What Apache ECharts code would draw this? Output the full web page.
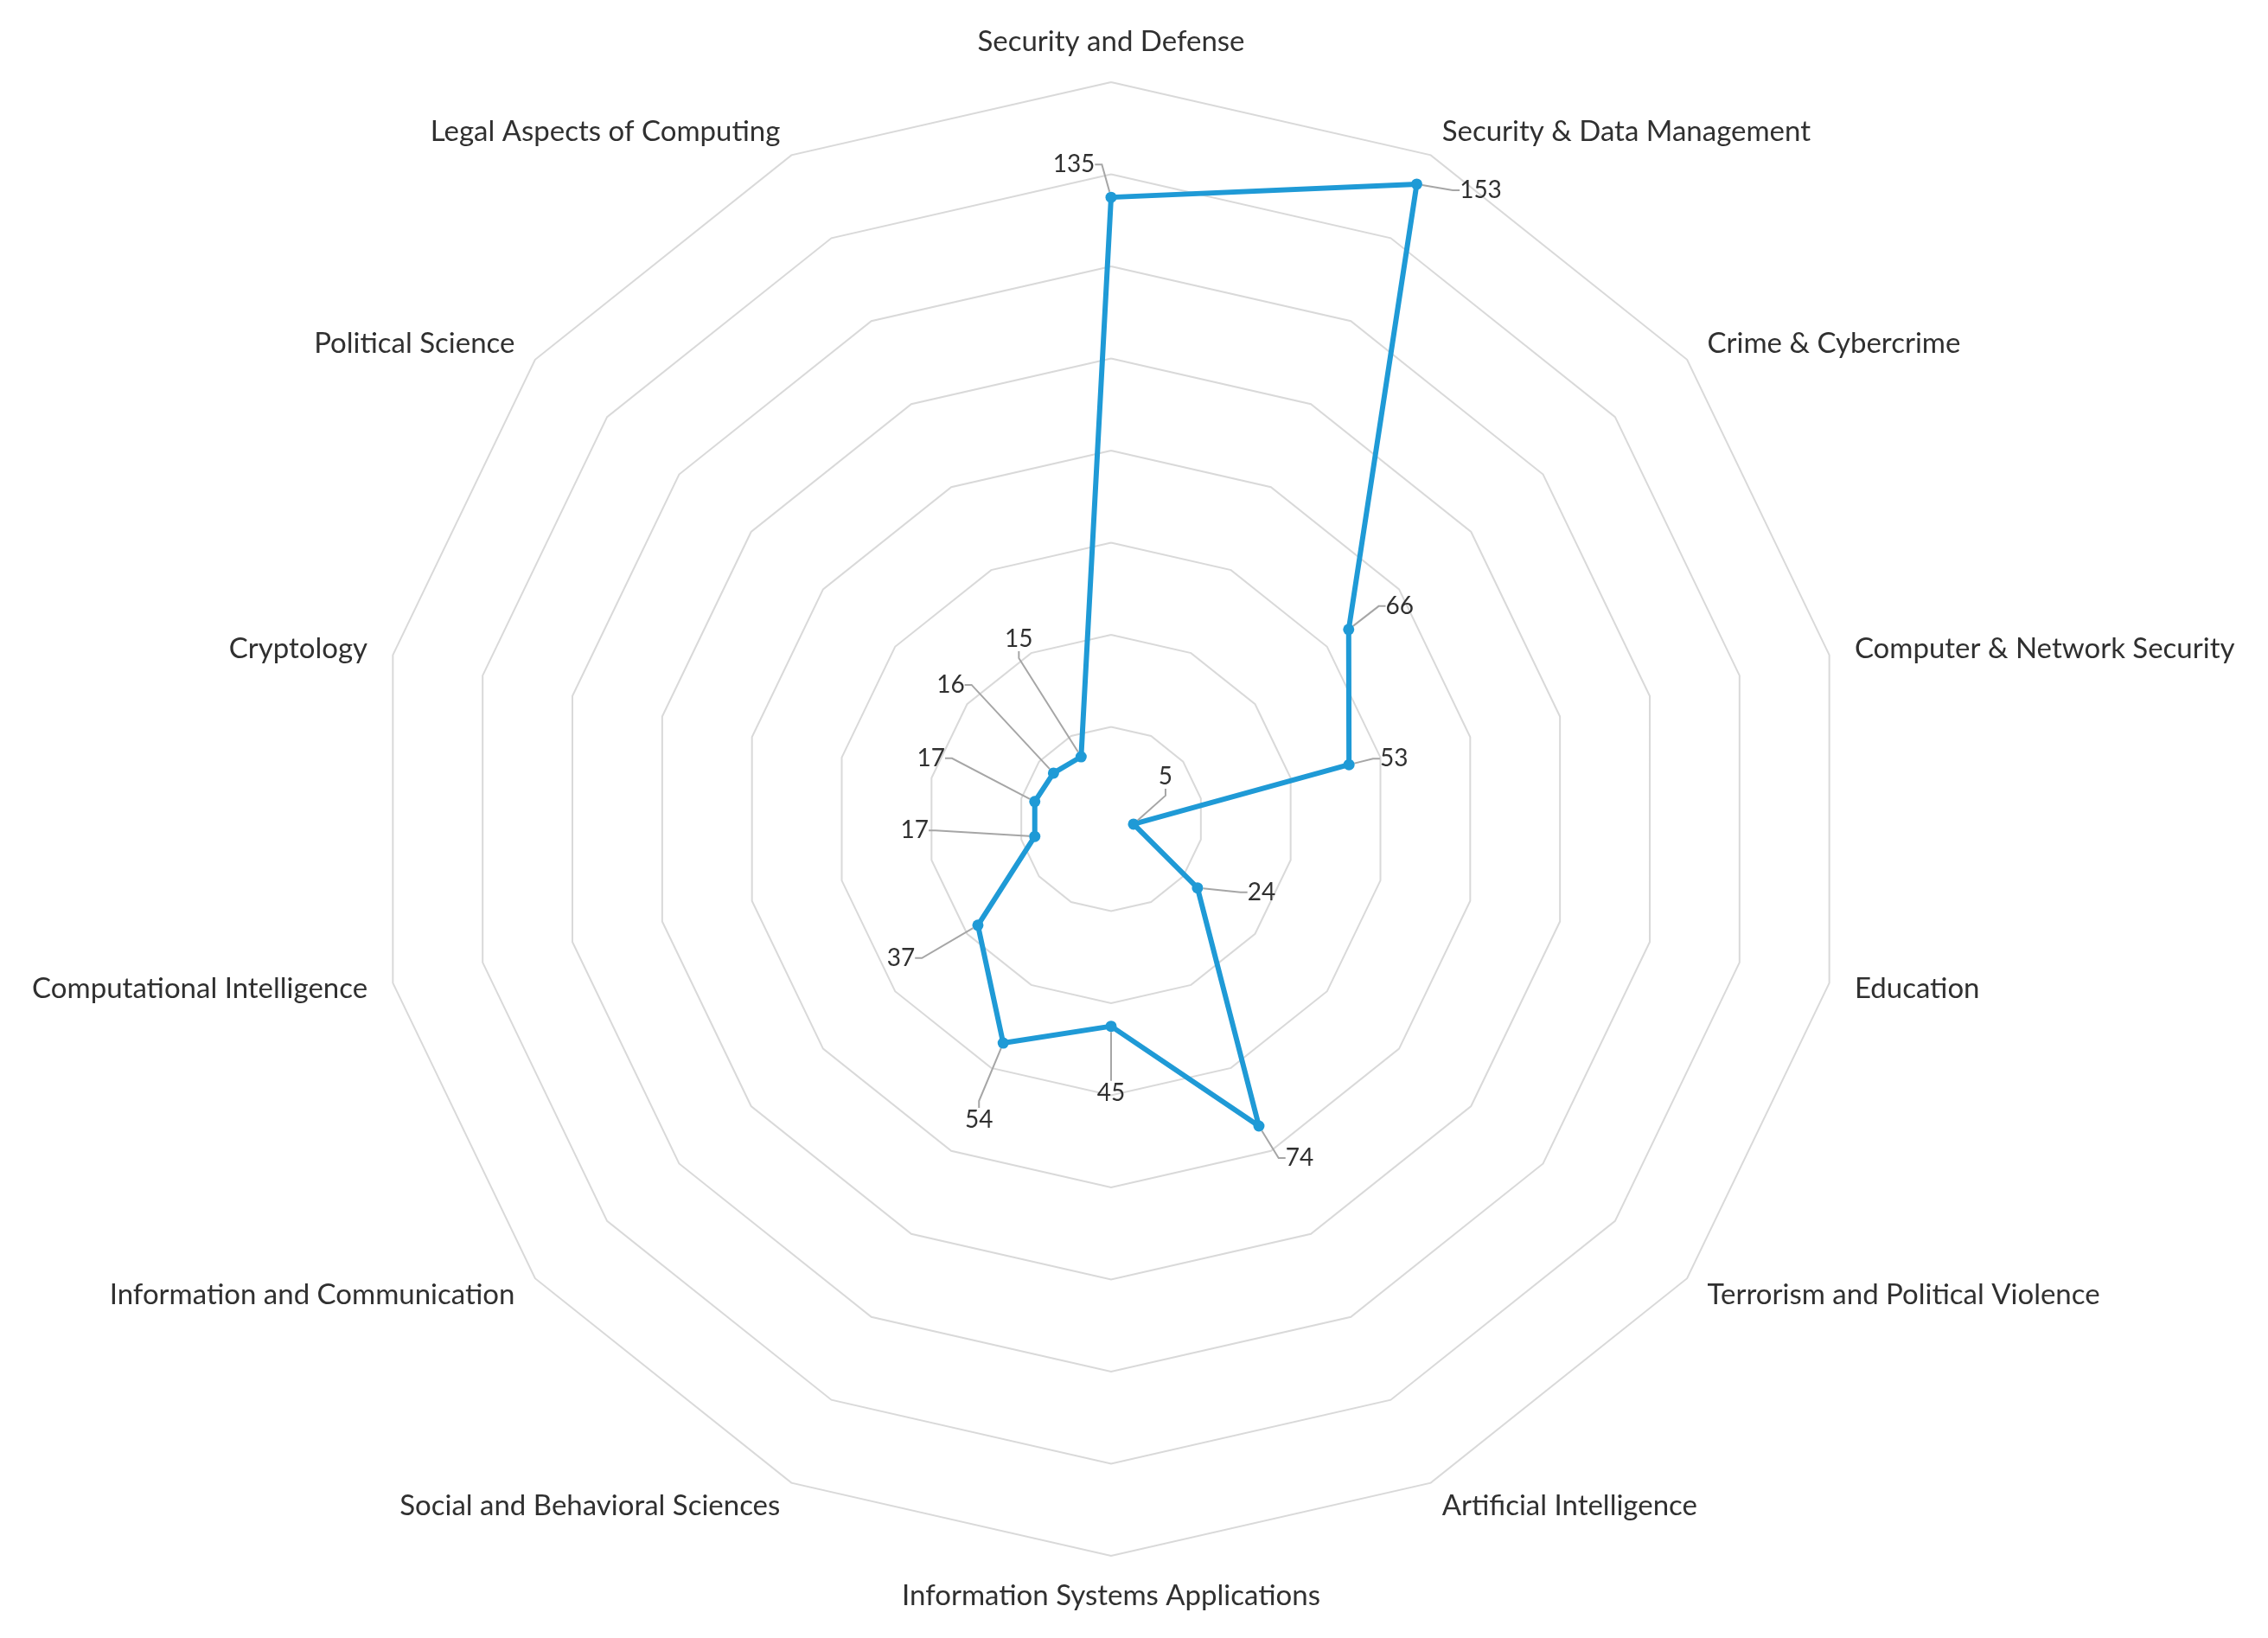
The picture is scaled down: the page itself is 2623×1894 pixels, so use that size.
<!DOCTYPE html>
<html>
<head>
<meta charset="utf-8">
<title>Radar</title>
<script src="https://cdn.jsdelivr.net/npm/echarts@6/dist/echarts.min.js"></script>
<style>
html, body { margin: 0; padding: 0; background: #fff; }
#main { width: 2623px; height: 1894px; }
</style>
</head>
<body>
<div id="main"></div>
<script>
// categories, clockwise from the top
var categories = ['Security and Defense', 'Security & Data Management', 'Crime & Cybercrime',
    'Computer & Network Security', 'Education', 'Terrorism and Political Violence',
    'Artificial Intelligence', 'Information Systems Applications', 'Social and Behavioral Sciences',
    'Information and Communication', 'Computational Intelligence', 'Cryptology',
    'Political Science', 'Legal Aspects of Computing'];
var counts = [135, 153, 66, 53, 5, 24, 74, 45, 54, 37, 17, 17, 16, 15];
var axisMax = 160;
var ringCount = 8;

// where each value label sits relative to its point (same order as categories)
var labelOffsets = [[-43, -38], [74, 7], [59, -27], [52, -7], [37, -55], [74, 5], [47, 37],
    [0, 77], [-28, 89], [-89, 38], [-139, -7], [-120, -50], [-119, -102], [-72, -136]];

var cx = 1285, cy = 947, radius = 852;
var textColor = '#303030';

// echarts lays the indicators out counter-clockwise, so flip everything after the first
var order = [0];
for (var i = categories.length - 1; i > 0; i--) order.push(i);

var chartDom = document.getElementById('main');
var myChart = echarts.init(chartDom, null, {renderer: 'canvas'});
var option;

option = {
    backgroundColor: '#ffffff',
    animation: false,
    radar: {
        center: [cx, cy],
        radius: radius,
        shape: 'polygon',
        splitNumber: ringCount,
        axisNameGap: 30,
        indicator: order.map(function (k) {
            return {name: categories[k], min: 0, max: axisMax};
        }),
        axisName: {
            color: textColor,
            fontFamily: 'Lato',
            fontSize: 33
        },
        axisLine: {show: false},
        axisTick: {show: false},
        axisLabel: {show: false},
        splitArea: {show: false},
        splitLine: {
            lineStyle: {color: '#d9d9d9', width: 2}
        }
    },
    series: [
        {
            type: 'radar',
            symbol: 'circle',
            symbolSize: 13,
            lineStyle: {color: '#1f9ad6', width: 6},
            itemStyle: {color: '#1f9ad6'},
            label: {
                show: true,
                position: 'inside',
                color: textColor,
                fontFamily: 'Lato',
                fontSize: 28,
                padding: [0, 6]
            },
            labelLine: {
                show: true,
                length2: 8,
                lineStyle: {color: '#a6a6a6', width: 2}
            },
            labelLayout: function (p) {
                var px = p.rect.x + p.rect.width / 2;
                var py = p.rect.y + p.rect.height / 2;
                // angle clockwise from the top -> which category this point belongs to
                var a = Math.atan2(px - cx, cy - py) * 180 / Math.PI;
                if (a < 0) a += 360;
                var k = Math.round(a / (360 / categories.length)) % categories.length;
                var off = labelOffsets[k];
                return {x: px + off[0], y: py + off[1], align: 'center', verticalAlign: 'middle'};
            },
            data: [
                {value: order.map(function (k) { return counts[k]; }), name: 'Count'}
            ]
        }
    ]
};

option && myChart.setOption(option);
</script>
</body>
</html>
